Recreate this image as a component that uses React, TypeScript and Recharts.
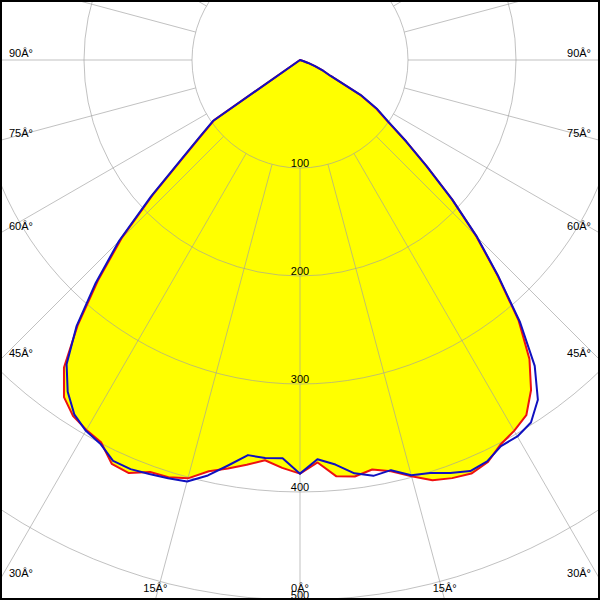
import React from 'react';
import { RadarChart, Radar, PolarGrid, PolarAngleAxis, PolarRadiusAxis } from 'recharts';

// Gamma angles (deg from nadir); negative = left half of the diagram
const angles = [
  -57.5, -55, -52.5, -50, -47.5, -45, -42.5, -40, -37.5, -35, -32.5, -30, -27.5, -25, -22.5, -20,
  -17.5, -15, -12.5, -10, -7.5, -5, -2.5, 0, 2.5, 5, 7.5, 10, 12.5, 15, 17.5, 20, 22.5, 25, 27.5,
  30, 32.5, 35, 37.5, 40, 42.5, 45, 47.5, 50, 52.5, 55, 57.5, 60, 62.5, 65, 67.5, 70, 72.5, 75,
];

// Red curve (cd/klm)
const redValues = [
  0, 97, 116, 143, 185, 234, 277, 320, 359, 381, 391, 395.5, 399, 412.5, 414, 406,
  405, 401, 390, 384, 378, 372, 378, 383, 373, 387, 389, 385, 390, 399, 408, 412, 414.5, 411, 401.7,
  396.5, 390, 373, 349, 315, 271, 231, 191, 153, 124, 99, 84, 64, 32, 24, 15, 8, 3, 0,
];

// Blue curve (cd/klm)
const blueValues = [
  0, 98, 117, 144, 187, 237, 280, 322, 355, 375, 389, 396.5, 400.5, 409.5, 410, 408,
  406, 404, 394, 381, 369, 370, 369, 383, 370, 376, 386, 391, 389, 398, 401, 407, 412, 410, 403,
  402.5, 398, 384, 357, 317, 272, 232, 191, 153, 124, 100, 85, 65, 32, 24, 15, 8, 3, 0,
];

const radiusDomain: [number, number] = [0, 500];
const angleDomain: [number, number] = [-180, 180];

const data = angles.map((a, i) => ({ angle: a, red: redValues[i], blue: blueValues[i] }));

const W = 600;
const H = 600;
const CX = 300;
const CY = 60;
const SPOKE_START = 108; // radius of the 100 circle
const GRID_STROKE = '#a0a0a0';
const GRID_OPACITY = 0.65;
const FONT = '"Liberation Sans", Arial, sans-serif';

function AngleTick(props: any) {
  const { payload } = props;
  if (!payload) return null;
  const v = Number(payload.value);
  const a = payload.coordinate as number;
  const cx = typeof props.cx === 'number' ? props.cx : CX;
  const cy = typeof props.cy === 'number' ? props.cy : CY;
  const dx = Math.cos((a * Math.PI) / 180);
  const dy = -Math.sin((a * Math.PI) / 180);

  const spoke =
    v > -179.99 ? (
      <line
        x1={cx + SPOKE_START * dx}
        y1={cy + SPOKE_START * dy}
        x2={cx + 900 * dx}
        y2={cy + 900 * dy}
        stroke={GRID_STROKE}
        strokeOpacity={GRID_OPACITY}
        strokeWidth={1}
      />
    ) : null;

  if (Math.abs(v) > 90.01) return <g>{spoke}</g>;

  let t = Infinity;
  if (dx < -1e-9) t = Math.min(t, (0 - cx) / dx);
  if (dx > 1e-9) t = Math.min(t, (W - cx) / dx);
  if (dy > 1e-9) t = Math.min(t, (H - cy) / dy);
  const ex = cx + t * dx;
  const ey = cy + t * dy;
  let x: number;
  let y: number;
  let anchor: 'start' | 'middle' | 'end';
  if (Math.abs(ey - H) < 0.5) {
    x = ex;
    y = 592;
    anchor = 'middle';
  } else if (ex < 1) {
    x = 9;
    y = ey - 3;
    anchor = 'start';
  } else {
    x = 591;
    y = ey - 3;
    anchor = 'end';
  }
  return (
    <g>
      {spoke}
      <text x={x} y={y} textAnchor={anchor} fontFamily={FONT} fontSize={11} fill="#000">
        {`${Math.abs(v)}Â°`}
      </text>
    </g>
  );
}

function RadiusTick(props: any) {
  const { x, y, payload } = props;
  if (!payload || Number(payload.value) === 0) return null;
  return (
    <text x={x} y={y - 1.5} textAnchor="middle" fontFamily={FONT} fontSize={11} fill="#000">
      {payload.value}
    </text>
  );
}

export default function App() {
  return (
    <div style={{ position: 'fixed', left: 0, top: 0, width: W, height: H, background: '#fff', overflow: 'hidden' }}>
      <RadarChart
        width={W}
        height={H}
        data={data}
        cx={CX}
        cy={CY}
        innerRadius={0}
        outerRadius={540}
        startAngle={-270}
        endAngle={90}
        margin={{ top: 0, right: 0, bottom: 0, left: 0 }}
      >
        <Radar
          dataKey="red"
          fill="#ffff00"
          fillOpacity={1}
          stroke="none"
          dot={false}
          activeDot={false}
          isAnimationActive={false}
          zIndex={100}
        />
        <PolarGrid
          gridType="circle"
          radialLines={false}
          stroke={GRID_STROKE}
          strokeOpacity={GRID_OPACITY}
          zIndex={200}
        />
        <PolarAngleAxis
          dataKey="angle"
          type="number"
          domain={angleDomain}
          tickCount={25}
          axisLine={false}
          tickLine={false}
          tick={<AngleTick />}
          zIndex={250}
        />
        <Radar
          dataKey="red"
          fill="none"
          stroke="#ee1111"
          strokeWidth={2}
          strokeLinejoin="round"
          dot={false}
          activeDot={false}
          isAnimationActive={false}
          zIndex={300}
        />
        <Radar
          dataKey="blue"
          fill="none"
          stroke="#1010c0"
          strokeWidth={2}
          strokeLinejoin="round"
          dot={false}
          activeDot={false}
          isAnimationActive={false}
          zIndex={400}
        />
        <PolarRadiusAxis
          angle={-90}
          domain={radiusDomain}
          tickCount={6}
          axisLine={false}
          tickLine={false}
          tick={<RadiusTick />}
          zIndex={900}
        />
      </RadarChart>
      <div
        style={{
          position: 'absolute',
          left: 0,
          top: 0,
          width: W,
          height: H,
          border: '2px solid #000',
          boxSizing: 'border-box',
          pointerEvents: 'none',
        }}
      />
    </div>
  );
}
